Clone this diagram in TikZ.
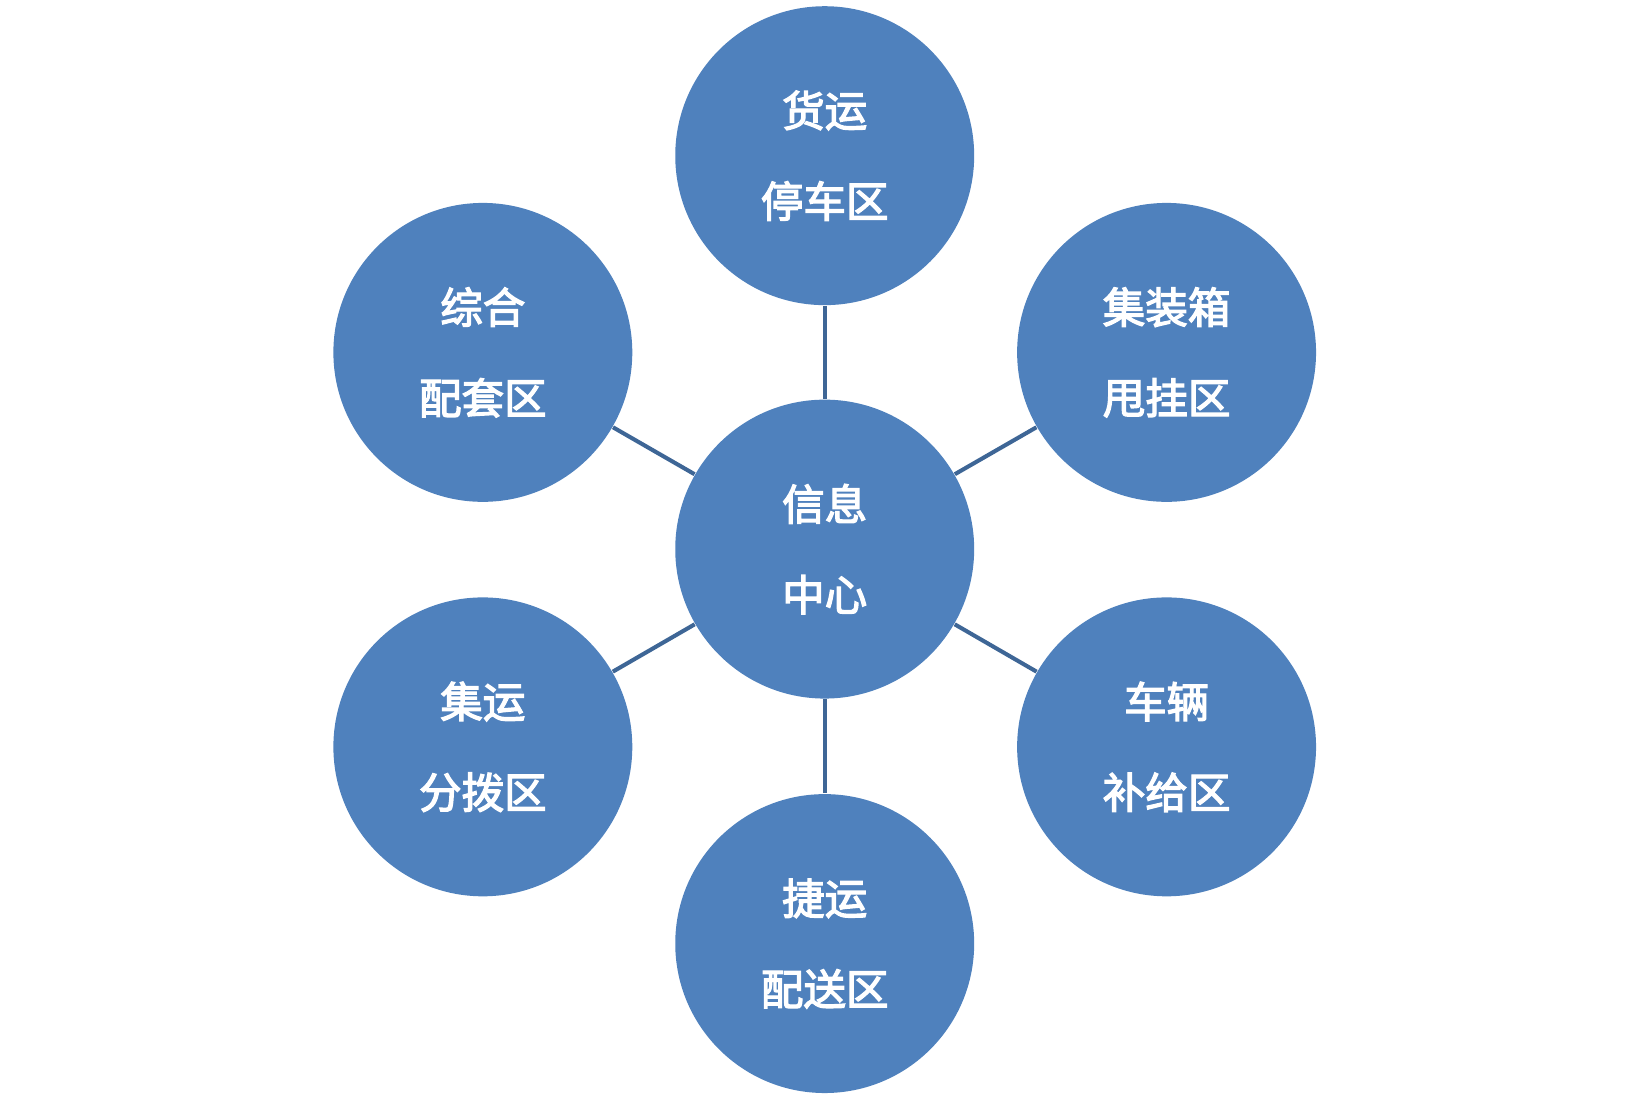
\documentclass[tikz,border=0pt]{standalone}
\usepackage{fontspec}
\newfontfamily\cjk[FakeBold=3]{Noto Sans CJK SC}
\usetikzlibrary{positioning}
\definecolor{zoneblue}{HTML}{4F81BD}
\definecolor{linkblue}{HTML}{3E6696}
\begin{document}
\begin{tikzpicture}
        [x=0.01cm,y=-0.01cm,
        zone/.style={circle,fill=zoneblue,minimum size=2.84cm,inner sep=0pt,
            text=white,align=center,font=\cjk\fontsize{11.5}{24.5}\selectfont},
        link/.style={draw=linkblue,line width=1.1pt}]
        \useasboundingbox (0,0) rectangle (1560,1040);
        \node[zone] (info) at (784,522) {信息\\中心};
        \node[zone] (park) at (784,148) {货运\\停车区};
        \node[zone] (box) at (1109,335) {集装箱\\甩挂区};
        \node[zone] (supply) at (1109,710) {车辆\\补给区};
        \node[zone] (deliver) at (784,897) {捷运\\配送区};
        \node[zone] (sort) at (459,710) {集运\\分拨区};
        \node[zone] (service) at (459,335) {综合\\配套区};
        \foreach \z in {park,box,supply,deliver,sort,service}
            \draw[link] (info) -- (\z);
    \end{tikzpicture}
\end{document}
